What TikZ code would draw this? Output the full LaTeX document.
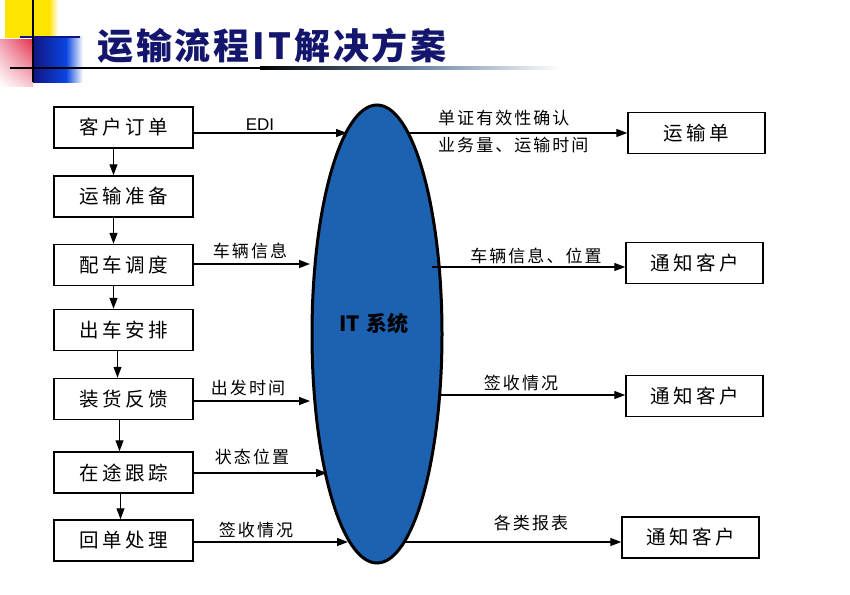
\documentclass[tikz,border=0pt]{standalone}
\usepackage{fontspec}
\setmainfont{Liberation Sans}
\newfontfamily\cjk{Noto Sans CJK SC}
\newfontfamily\cjkbox[LetterSpace=18]{Noto Sans CJK SC}
\newfontfamily\cjklab[LetterSpace=12]{Noto Sans CJK SC}
\newfontfamily\cjktitle[LetterSpace=8]{Noto Sans CJK SC}
\usetikzlibrary{shapes.geometric,arrows.meta,calc,shadings}
\definecolor{itblue}{RGB}{28,98,176}
\definecolor{titleblue}{RGB}{20,22,110}
\definecolor{decoyellow}{RGB}{255,228,0}
\definecolor{decored}{RGB}{228,52,78}
\definecolor{decopink}{RGB}{242,160,178}
\definecolor{deconavy}{RGB}{18,20,130}
\definecolor{decoblue}{RGB}{10,70,225}
\definecolor{lineblue}{RGB}{110,135,165}
\begin{document}
\begin{tikzpicture}[x=1pt,y=-1pt,
  stepbox/.style={draw, line width=1.5pt, minimum width=139pt, minimum height=41pt, inner sep=0pt,
    font=\cjkbox\fontsize{19.5}{22}\selectfont},
  outbox/.style={stepbox, minimum width=137pt},
  lab/.style={inner sep=0pt, font=\cjklab\fontsize{17}{20}\selectfont},
  edilab/.style={inner sep=0pt, font=\fontsize{17}{20}\selectfont},
  arr/.style={line width=1.3pt, -{Triangle[length=11pt,width=8pt]}},
]
\useasboundingbox (0,0) rectangle (850,594);
\fill[white] (0,0) rectangle (850,594);

% decoration top-left
\fill[decoyellow] (5,0) rectangle (49,38);
\shade[left color=decoyellow, right color=white] (49,0) rectangle (58,38);
\shade[upper left=decopink, upper right=decored, lower left=white, lower right=decopink!60] (0,40) rectangle (33,86);
\shade[left color=deconavy, right color=decoblue] (33,37) rectangle (66,82);
\shade[left color=decoblue, right color=white] (66,37) rectangle (83,82);
\fill[deconavy] (20,36) rectangle (80,38.5);
\fill[black] (31.8,0) rectangle (34.3,82);
\fill[black] (10,66.8) rectangle (260,69.3);
\shade[left color=black, right color=lineblue] (260,66.8) rectangle (420,69.3);
\shade[left color=lineblue, right color=white] (420,66.8) rectangle (560,69.3);

% title
\node[font=\cjktitle\bfseries\fontsize{36}{40}\selectfont, text=titleblue, inner sep=0pt] (title) at (272,46) {运输流程IT解决方案};

% IT system ellipse
\node[ellipse, draw=black, line width=3pt, fill=itblue, minimum width=130pt, minimum height=458pt, inner sep=0pt] (it) at (377,334) {};
\node[inner sep=0pt, font=\cjk\bfseries\fontsize{21}{24}\selectfont] (ittext) at (374,323) {IT\hspace{7pt}系统};

% left process boxes
\node[stepbox] (b1) at (123.5,127.5) {客户订单};
\node[stepbox] (b2) at (123.5,196.5) {运输准备};
\node[stepbox] (b3) at (123.5,265) {配车调度};
\node[stepbox] (b4) at (123.5,330) {出车安排};
\node[stepbox] (b5) at (123.5,399) {装货反馈};
\node[stepbox] (b6) at (123.5,472.5) {在途跟踪};
\node[stepbox] (b7) at (123.5,540.5) {回单处理};

\draw[arr] ([xshift=-10pt]b1.south) -- ([xshift=-10pt]b2.north);
\draw[arr] ([xshift=-10pt]b2.south) -- ([xshift=-10pt]b3.north);
\draw[arr] ([xshift=-10pt]b3.south) -- ([xshift=-10pt]b4.north);
\draw[arr] ([xshift=-6pt]b4.south) -- ([xshift=-6pt]b5.north);
\draw[arr] ([xshift=-4pt]b5.south) -- ([xshift=-4pt]b6.north);
\draw[arr] ([xshift=-3pt]b6.south) -- ([xshift=-3pt]b7.north);

% right output boxes
\node[outbox] (o1) at (696.5,133) {运输单};
\node[outbox] (o2) at (694.5,263) {通知客户};
\node[outbox] (o3) at (694.5,396) {通知客户};
\node[outbox] (o4) at (690.5,537.5) {通知客户};

% left arrows into IT
\coordinate (e1) at (347,133);
\coordinate (e2) at (310,264);
\coordinate (e3) at (310,401);
\coordinate (e4) at (327,473);
\coordinate (e5) at (348,542);
\draw[arr] (b1.east |- e1) -- (e1);
\draw[arr] (b3.east |- e2) -- (e2);
\draw[arr] (b5.east |- e3) -- (e3);
\draw[arr] (b6.east |- e4) -- (e4);
\draw[arr] (b7.east |- e5) -- (e5);

% right arrows out of IT
\coordinate (r1) at (408,133);
\coordinate (r2) at (432,267);
\coordinate (r3) at (438,395);
\coordinate (r4) at (403,542);
\draw[arr] (r1) -- (o1.west |- r1);
\draw[arr] (r2) -- (o2.west |- r2);
\draw[arr] (r3) -- (o3.west |- r3);
\draw[arr] (r4) -- (o4.west |- r4);

% labels
\node[edilab] (l1) at (260,125) {EDI};
\node[lab] (l2) at (250,251) {车辆信息};
\node[lab] (l3) at (248,388) {出发时间};
\node[lab] (l4) at (252,457) {状态位置};
\node[lab] (l5) at (256,530) {签收情况};
\node[lab, anchor=west] (l6) at (438,118) {单证有效性确认};
\node[lab, anchor=west] (l7) at (438,145) {业务量、运输时间};
\node[lab] (l8) at (536,256) {车辆信息、位置};
\node[lab] (l9) at (521,383) {签收情况};
\node[lab] (l10) at (531,523) {各类报表};
\end{tikzpicture}
\end{document}
